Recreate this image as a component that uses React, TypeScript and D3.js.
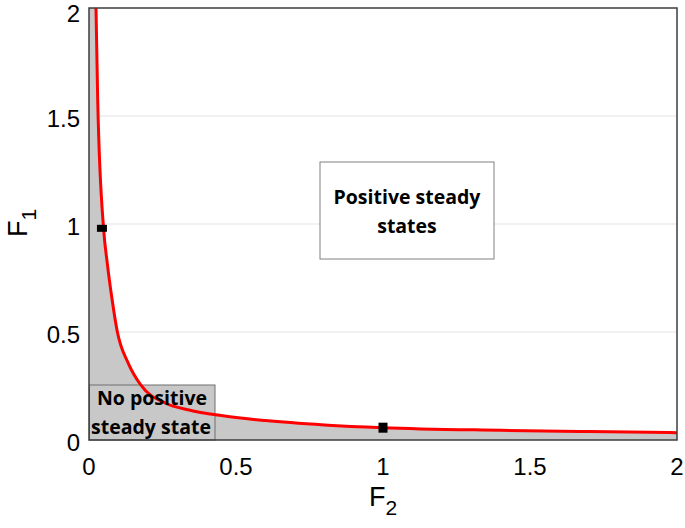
import * as d3 from "d3";

// boundary curve
const f2Values = [0.0238, 0.0296, 0.05, 0.0622, 0.0772, 0.0963, 0.1337, 0.176, 0.261, 0.34, 0.45, 0.6, 0.8, 1.0, 1.4, 1.7, 2.0];
const f1Values = [2.0, 1.574, 0.972, 0.818, 0.663, 0.501, 0.355, 0.255, 0.17, 0.139, 0.113, 0.09, 0.07, 0.057, 0.045, 0.039, 0.034];

// the two black markers
const markerF2 = [0.044, 1.0];
const markerF1 = [0.98, 0.057];

const xTicks = [0, 0.5, 1, 1.5, 2];
const yTicks = [0, 0.5, 1, 1.5, 2];
const gridTicks = [0.5, 1, 1.5];

const W = 685;
const H = 528;
const left = 89;
const right = 677;
const top = 8;
const bottom = 440;

export default function App() {
  const x = d3.scaleLinear().domain([0, 2]).range([left, right]);
  const y = d3.scaleLinear().domain([0, 2]).range([bottom, top]);

  const pts: [number, number][] = f2Values.map((v, i) => [v, f1Values[i]]);
  const line = d3
    .line<[number, number]>()
    .x((d) => x(d[0]))
    .y((d) => y(d[1]))
    .curve(d3.curveMonotoneX);
  const curvePath = line(pts) || "";
  const last = pts[pts.length - 1];
  const areaPath =
    curvePath +
    `L${x(last[0])},${y(0)}L${x(0)},${y(0)}L${x(0)},${y(2)}L${x(pts[0][0])},${y(pts[0][1])}Z`;

  const tickFont = "'Liberation Sans', Arial, sans-serif";
  const boxFont = "'Open Sans', 'Liberation Sans', sans-serif";
  const gray = "#c8c8c8";

  return (
    <svg width={W} height={H} style={{ position: "absolute", left: 0, top: 0, background: "#fff" }}>
      <defs>
        <clipPath id="plot">
          <rect x={left} y={top} width={right - left} height={bottom - top} />
        </clipPath>
      </defs>

      {gridTicks.map((t) => (
        <line key={t} x1={left} x2={right} y1={y(t)} y2={y(t)} stroke="#e3e3e3" strokeWidth={1} />
      ))}

      <g clipPath="url(#plot)">
        <path d={areaPath} fill={gray} stroke="none" />
      </g>

      {/* No positive steady state box */}
      <rect x={89.5} y={385} width={125.5} height={55} fill={gray} stroke="#6f6f6f" strokeWidth={1} />

      <g clipPath="url(#plot)">
        <path d={curvePath} fill="none" stroke="#ff0000" strokeWidth={3} />
      </g>

      {markerF2.map((v, i) => (
        <rect
          key={i}
          x={x(v) - (i === 0 ? 5 : 4.5)}
          y={y(markerF1[i]) - (i === 0 ? 3.5 : 5)}
          width={i === 0 ? 10 : 9}
          height={i === 0 ? 7 : 10}
          fill="#000"
        />
      ))}

      <rect x={left} y={top} width={right - left} height={bottom - top} fill="none" stroke="#3c3c3c" strokeWidth={1.5} />

      <g fontFamily={boxFont} fontWeight="bold" fontSize={19.5} fill="#000" textAnchor="middle">
        <text x={152} y={405}>No positive</text>
        <text x={151} y={434}>steady state</text>
      </g>

      {/* Positive steady states box */}
      <rect x={320} y={162} width={174} height={97} fill="#fff" stroke="#808080" strokeWidth={1} />
      <g fontFamily={boxFont} fontWeight="bold" fontSize={19.5} fill="#000" textAnchor="middle">
        <text x={407} y={204}>Positive steady</text>
        <text x={407} y={233}>states</text>
      </g>

      <g fontFamily={tickFont} fontSize={24} fill="#000">
        {xTicks.map((t) => (
          <text key={t} x={x(t)} y={475} textAnchor="middle">
            {d3.format("")(t)}
          </text>
        ))}
        {yTicks.map((t) => (
          <text key={t} x={80} y={Math.max(y(t) + 2, 13)} textAnchor="end" dominantBaseline="central">
            {d3.format("")(t)}
          </text>
        ))}
        <text x={369} y={506} fontSize={27}>
          F<tspan fontSize={21} dy={9}>2</tspan>
        </text>
        <text transform={`translate(27,237) rotate(-90)`} fontSize={27}>
          F<tspan fontSize={21} dy={9}>1</tspan>
        </text>
      </g>
    </svg>
  );
}
